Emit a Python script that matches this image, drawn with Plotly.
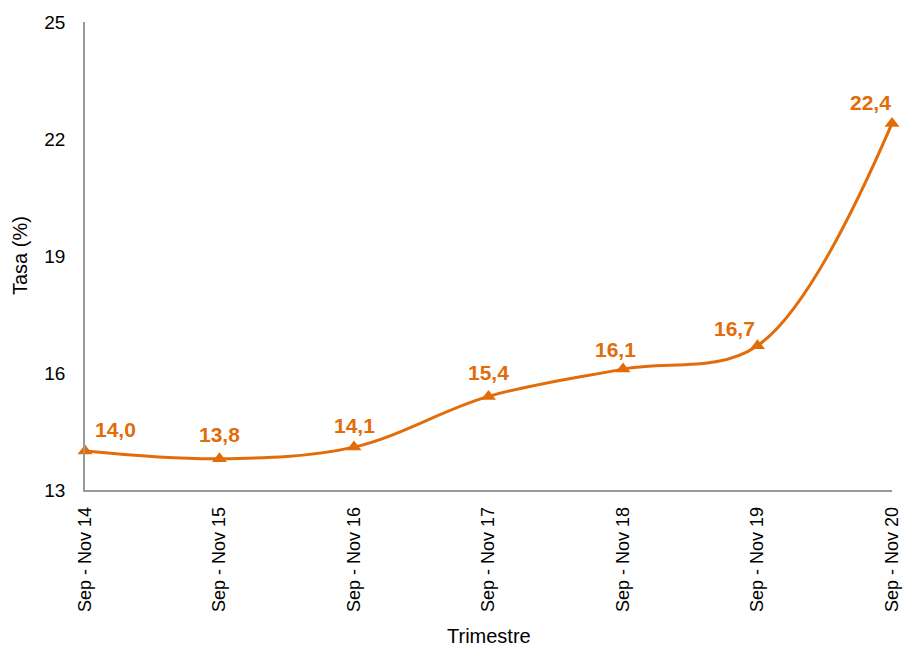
import plotly.graph_objects as go

categories = ["Sep - Nov 14", "Sep - Nov 15", "Sep - Nov 16", "Sep - Nov 17",
              "Sep - Nov 18", "Sep - Nov 19", "Sep - Nov 20"]
values = [14.0, 13.8, 14.1, 15.4, 16.1, 16.7, 22.4]
value_labels = ["14,0", "13,8", "14,1", "15,4", "16,1", "16,7", "22,4"]
y_ticks = [13, 16, 19, 22, 25]

label_xshift = [30, 0, 0, 0, -8, -23, -22]
label_yshift = [22, 24, 22, 24, 20, 17, 21]

ORANGE = "#E36C0A"
FONT = "Liberation Sans, Arial, sans-serif"

fig = go.Figure()
fig.add_trace(go.Scatter(
    x=categories, y=values, mode="lines+markers",
    line=dict(color=ORANGE, width=3, shape="spline", smoothing=1.0),
    marker=dict(symbol="triangle-up", size=13, color=ORANGE),
    cliponaxis=False, hoverinfo="x+y",
))

for c, v, t, xs, ys in zip(categories, values, value_labels, label_xshift, label_yshift):
    fig.add_annotation(x=c, y=v, text=f"<b>{t}</b>", showarrow=False,
                       xshift=xs, yshift=ys,
                       font=dict(family=FONT, size=21, color=ORANGE))

fig.add_annotation(text="Tasa (%)", xref="paper", yref="paper", x=0, y=0.5,
                   xshift=-65, xanchor="center", yanchor="middle",
                   textangle=-90, showarrow=False,
                   font=dict(family=FONT, size=20, color="black"))
fig.add_annotation(text="Trimestre", xref="paper", yref="paper", x=0.5, y=0,
                   yshift=-146, xanchor="center", yanchor="middle",
                   showarrow=False,
                   font=dict(family=FONT, size=20, color="black"))

fig.update_layout(
    width=917, height=651,
    margin=dict(l=77, r=33, t=14, b=169, autoexpand=False),
    plot_bgcolor="white", paper_bgcolor="white",
    showlegend=False,
    font=dict(family=FONT, size=18, color="black"),
    xaxis=dict(
        type="category", range=[0, 6], tickangle=-90,
        showline=True, linecolor="#999999", linewidth=1.5,
        showgrid=False, ticks="", tickfont=dict(size=18),
        ticklabelstandoff=8,
    ),
    yaxis=dict(
        range=[13, 25], tickvals=y_ticks,
        showline=True, linecolor="#999999", linewidth=1.5,
        showgrid=False, zeroline=False, ticks="", tickfont=dict(size=19),
        ticklabelstandoff=14,
    ),
)

fig.write_html("out.html")
